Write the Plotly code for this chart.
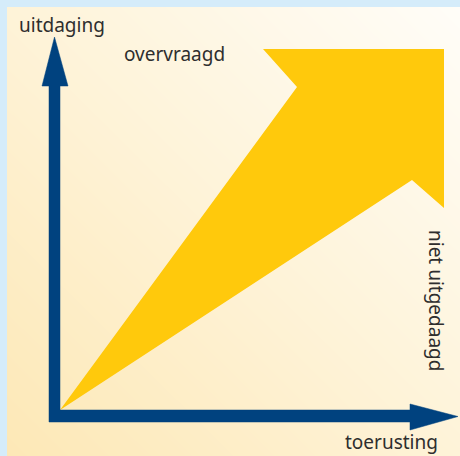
import plotly.graph_objects as go

W, H = 460, 456

# Big yellow arrow (diagram vertices, pixel space)
wedge_x = [60, 297, 263, 444, 444, 412, 60]
wedge_y = [410, 87, 49, 49, 208, 180, 410]

# Blue L-shaped axes with arrowheads
axes_x = [49, 49, 42, 54.5, 68, 60, 60, 410, 410, 458, 410, 410, 49]
axes_y = [422, 86, 86, 37, 86, 86, 410, 410, 404, 416.5, 430, 422, 422]

# Labels
labels = ["uitdaging", "overvraagd", "toerusting", "niet uitgedaagd"]
label_x = [17, 122, 343, 436]
label_y = [25, 54, 442, 300]
label_angle = [0, 0, 0, 90]
label_anchor = ["left", "left", "left", "center"]

# Background gradient corners (bottom-left -> top-right)
bg_x = [7, 460]
bg_y = [7, 456]
bg_z = [[0.5, 1.0], [0.0, 0.5]]

fig = go.Figure()
fig.add_trace(go.Heatmap(
    x=bg_x, y=bg_y, z=bg_z, zsmooth="best", showscale=False, hoverinfo="skip",
    colorscale=[[0, "#fde8b6"], [0.5, "#fef3d8"], [1, "#fffdf8"]],
))
fig.add_trace(go.Scatter(x=wedge_x, y=wedge_y, fill="toself", fillcolor="#ffc90c",
                         mode="lines", line=dict(width=0, color="#ffc90c"), hoverinfo="skip"))
fig.add_trace(go.Scatter(x=axes_x, y=axes_y, fill="toself", fillcolor="#00427f",
                         mode="lines", line=dict(width=0.5, color="#00427f"), hoverinfo="skip"))

for t, x, y, a, anc in zip(labels, label_x, label_y, label_angle, label_anchor):
    fig.add_annotation(x=x, y=y, xref="x", yref="y", text=t, showarrow=False,
                       textangle=a, xanchor=anc, yanchor="middle",
                       font=dict(family="Noto Sans", size=19, color="#2e2e2e"))

fig.add_shape(type="rect", x0=0, x1=W, y0=0, y1=7, xref="x", yref="y",
              fillcolor="#d5ecfa", line=dict(width=0), layer="above")
fig.add_shape(type="rect", x0=0, x1=7, y0=0, y1=H, xref="x", yref="y",
              fillcolor="#d5ecfa", line=dict(width=0), layer="above")

fig.update_layout(
    width=W, height=H, margin=dict(l=0, r=0, t=0, b=0),
    showlegend=False, paper_bgcolor="#d5ecfa", plot_bgcolor="#d5ecfa",
    xaxis=dict(range=[0, W], visible=False, fixedrange=True),
    yaxis=dict(range=[H, 0], visible=False, fixedrange=True),
)
fig.write_html("out.html", config={"displayModeBar": False},
               post_script="document.body.style.margin='0px';document.body.style.overflow='hidden';")
